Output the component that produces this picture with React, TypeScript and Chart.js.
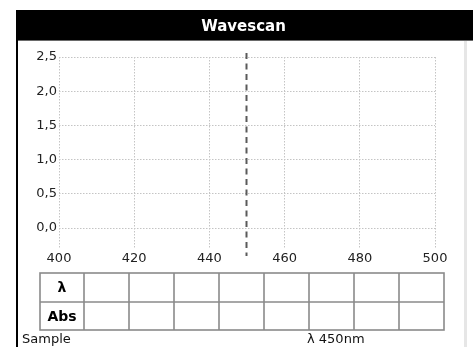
import React, { useEffect, useRef } from "react";
import { Chart, registerables } from "chart.js";

Chart.register(...registerables);

const title = "Wavescan";
const wavelengthTicks = [400, 420, 440, 460, 480, 500];
const absTicks = [0, 0.5, 1, 1.5, 2, 2.5];
const absTickLabels = ["0,0", "0,5", "1,0", "1,5", "2,0", "2,5"];
const scanWavelengths: number[] = [];
const scanAbsorbance: number[] = [];
const markerWavelength = 450;
const tableRowLabels = ["λ", "Abs"];
const tableColumnCount = 8;
const footerLeft = "Sample";
const footerRight = "λ 450nm";

const FONT = "'DejaVu Sans', sans-serif";

const framePlugin = {
  id: "frame",
  beforeDraw(chart: any) {
    const ctx = chart.ctx as CanvasRenderingContext2D;
    const W = chart.width;
    const H = chart.height;
    ctx.save();
    ctx.fillStyle = "#ffffff";
    ctx.fillRect(0, 0, W, H);
    // header
    ctx.fillStyle = "#000000";
    ctx.fillRect(16, 10, W - 16, 30);
    ctx.fillStyle = "#6a6a6a";
    ctx.fillRect(16, 40, W - 16, 1);
    // left border
    ctx.fillStyle = "#000000";
    ctx.fillRect(16, 10, 2, H - 10);
    // right pale border
    ctx.fillStyle = "#e6e6e6";
    ctx.fillRect(464, 41, 3, H - 41);
    ctx.fillStyle = "#ffffff";
    ctx.font = `bold 15px ${FONT}`;
    ctx.textAlign = "center";
    ctx.textBaseline = "middle";
    ctx.fillText(title, 243.5, 27);
    ctx.restore();
  },
  afterDraw(chart: any) {
    const ctx = chart.ctx as CanvasRenderingContext2D;
    const xs = chart.scales.x;
    const area = chart.chartArea;
    ctx.save();
    // marker line
    const mx = Math.round(xs.getPixelForValue(markerWavelength)) - 0.5;
    ctx.strokeStyle = "#5a5a5a";
    ctx.lineWidth = 2;
    ctx.setLineDash([6, 4.5]);
    ctx.beginPath();
    ctx.moveTo(mx, area.top - 4);
    ctx.lineTo(mx, area.bottom + 28);
    ctx.stroke();
    ctx.setLineDash([]);

    // table
    const tLeft = 40;
    const tTop = 273;
    const firstW = 44;
    const colW = 45;
    const rowH = [29, 28];
    const tRight = tLeft + firstW + colW * tableColumnCount;
    const tBottom = tTop + rowH[0] + rowH[1];
    ctx.strokeStyle = "#8a8a8a";
    ctx.lineWidth = 1.6;
    ctx.strokeRect(tLeft, tTop, tRight - tLeft, tBottom - tTop);
    ctx.beginPath();
    ctx.moveTo(tLeft, tTop + rowH[0]);
    ctx.lineTo(tRight, tTop + rowH[0]);
    for (let i = 0; i < tableColumnCount; i++) {
      const cx = tLeft + firstW + colW * i;
      ctx.moveTo(cx, tTop);
      ctx.lineTo(cx, tBottom);
    }
    ctx.stroke();
    ctx.fillStyle = "#000000";
    ctx.font = `bold 14px ${FONT}`;
    ctx.textAlign = "center";
    ctx.textBaseline = "middle";
    let y = tTop;
    tableRowLabels.forEach((lab, i) => {
      ctx.fillText(lab, tLeft + firstW / 2, y + rowH[i] / 2 + 1);
      y += rowH[i];
    });

    // footer
    ctx.font = `13px ${FONT}`;
    ctx.textAlign = "left";
    ctx.fillStyle = "#111111";
    ctx.fillText(footerLeft, 22, 340);
    ctx.fillText(footerRight, 307, 340);
    ctx.restore();
  },
};

export default function App() {
  const ref = useRef<HTMLCanvasElement | null>(null);
  useEffect(() => {
    if (!ref.current) return;
    const gridColor = "#c4c4c4";
    const chart = new Chart(ref.current, {
      type: "scatter",
      data: {
        datasets: [
          {
            data: scanWavelengths.map((w, i) => ({ x: w, y: scanAbsorbance[i] })),
            borderColor: "#000",
            showLine: true,
            pointRadius: 0,
          },
        ],
      },
      options: {
        animation: false,
        responsive: false,
        devicePixelRatio: 1,
        layout: { padding: { left: 0, right: 38, top: 57, bottom: 74 } },
        plugins: { legend: { display: false }, tooltip: { enabled: false } },
        scales: {
          x: {
            type: "linear",
            min: 400,
            max: 500,
            afterBuildTicks: (s: any) => {
              s.ticks = wavelengthTicks.map((v) => ({ value: v }));
            },
            afterFit: (s: any) => {
              s.height = 45;
            },
            ticks: {
              color: "#222",
              font: { family: FONT, size: 13 },
              padding: 3,
              maxRotation: 0,
              callback: (v: any) => String(v),
            },
            grid: {
              color: gridColor,
              lineWidth: 1,
              drawTicks: true,
              tickLength: 20,
              tickColor: gridColor,
              tickBorderDash: [1.5, 1.5],
            },
            border: { display: false, dash: [1.5, 1.5] },
          },
          y: {
            type: "linear",
            min: 0,
            max: 2.5,
            afterBuildTicks: (s: any) => {
              s.ticks = absTicks.map((v) => ({ value: v }));
            },
            afterFit: (s: any) => {
              s.width = 59;
            },
            ticks: {
              color: "#222",
              font: { family: FONT, size: 13 },
              padding: 2,
              callback: (v: any) => {
                const i = absTicks.indexOf(Number(v));
                return i >= 0 ? absTickLabels[i] : "";
              },
            },
            grid: {
              color: gridColor,
              lineWidth: 1,
              drawTicks: false,
            },
            border: { display: false, dash: [1.5, 1.5] },
          },
        },
      },
      plugins: [framePlugin],
    } as any);
    return () => chart.destroy();
  }, []);
  return (
    <div style={{ position: "absolute", left: 0, top: 0, width: 473, height: 347 }}>
      <canvas ref={ref} width={473} height={347} style={{ display: "block" }} />
    </div>
  );
}
